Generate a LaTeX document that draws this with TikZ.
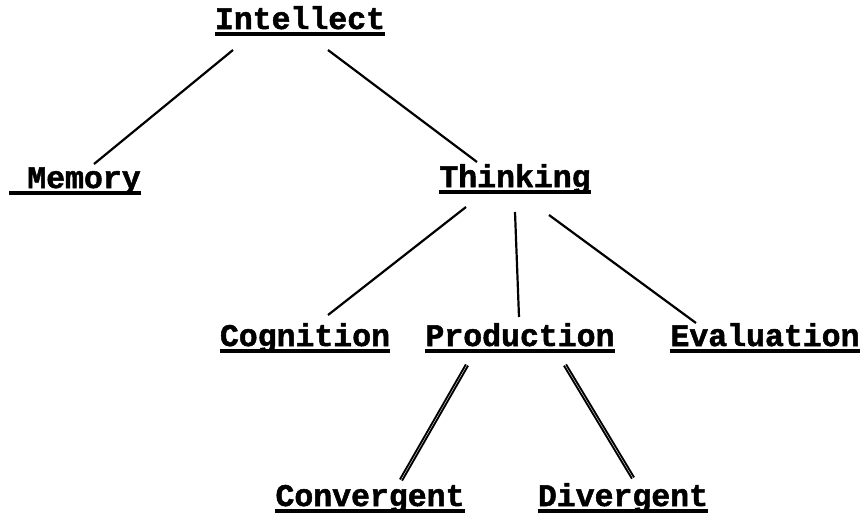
\documentclass[tikz,border=0pt]{standalone}
\usepackage{fontspec}
\newfontfamily\twfont{Liberation Mono}[BoldFeatures={FakeBold=1.6}]
\usetikzlibrary{calc}
\newcommand\tw[1]{\setbox0=\hbox{#1}\leavevmode\rlap{\rule[-6.5pt]{\wd0}{3.2pt}}\box0}
\tikzset{
  lbl/.style={font=\fontsize{31.5}{32}\selectfont\twfont\bfseries, inner sep=0pt, anchor=base},
  edge/.style={line width=2.2pt, black},
  thick edge/.style={line width=2pt, black, double=white, double distance=0.35pt}
}
\begin{document}
\begin{tikzpicture}[x=1pt,y=-1pt]
\useasboundingbox[fill=white] (0,0) rectangle (863,515);
\node[lbl] (int) at (300,29) {\tw{Intellect}};
\node[lbl] (mem) at (75,188) {\tw{\hspace{18pt}Memory}};
\node[lbl] (thi) at (515,187) {\tw{Thinking}};
\node[lbl] (cog) at (305,346) {\tw{Cognition}};
\node[lbl] (pro) at (520,346) {\tw{Production}};
\node[lbl] (eva) at (765,346) {\tw{Evaluation}};
\node[lbl] (con) at (370,506) {\tw{Convergent}};
\node[lbl] (div) at (623,506) {\tw{Divergent}};
\draw[edge] ($(int.base)+(-67,21)$) -- ($(mem.base)+(19,-24)$);
\draw[edge] ($(int.base)+(28,21)$) -- ($(thi.base)+(-38,-25)$);
\draw[edge] ($(thi.base)+(-49,20)$) -- ($(cog.base)+(23,-31)$);
\draw[edge] ($(thi.base)+(0,25)$) -- ($(pro.base)+(-1,-29)$);
\draw[edge] ($(thi.base)+(34,28)$) -- ($(eva.base)+(-69,-23)$);
\draw[thick edge] ($(pro.base)+(-53,19)$) -- ($(con.base)+(31,-26)$);
\draw[thick edge] ($(pro.base)+(45,19)$) -- ($(div.base)+(10,-28)$);
\end{tikzpicture}
\end{document}
